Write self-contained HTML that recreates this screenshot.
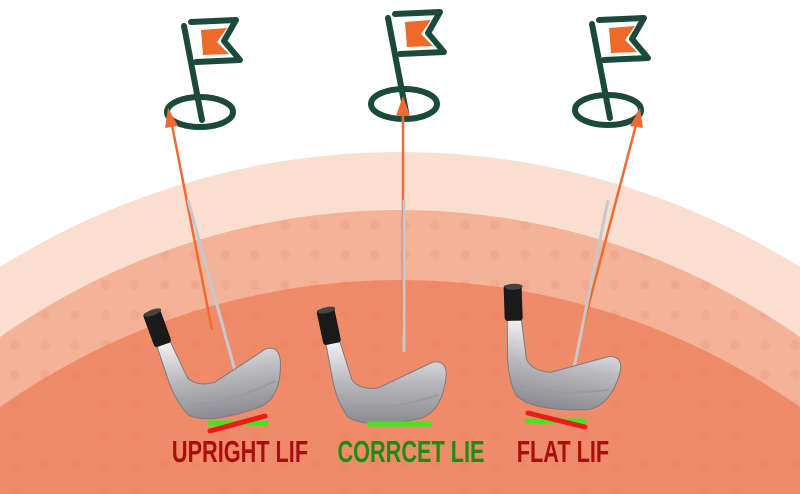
<!DOCTYPE html>
<html><head><meta charset="utf-8"><style>
html,body{margin:0;padding:0;background:#fff;width:800px;height:494px;overflow:hidden;}
svg{display:block;}
text{font-family:"Liberation Sans",sans-serif;font-weight:bold;}
</style></head><body>
<svg width="800" height="494" viewBox="0 0 800 494" xmlns="http://www.w3.org/2000/svg">
<defs>
<linearGradient id="steel" x1="0" y1="0" x2="0" y2="1">
<stop offset="0" stop-color="#f2f2f2"/><stop offset="0.5" stop-color="#b8b8bc"/><stop offset="1" stop-color="#8a8a90"/>
</linearGradient>
<pattern id="dots" width="30" height="30" patternUnits="userSpaceOnUse">
<circle cx="15" cy="15" r="5" fill="#e9805f" opacity="0.5"/>
</pattern>
<g id="club">
<path d="M-62,-48 L-48,-50 L-36,-12 Q-28,-2 -10,-4 L45,-30 Q60,-32 58,-14 Q54,18 34,26 Q-20,38 -40,25 Q-50,12 -55,-10 Z" fill="url(#steel)" stroke="#7a7a80" stroke-width="1"/>
<path d="M-40,14 Q0,20 50,3" stroke="#9a9aa0" stroke-width="2" fill="none"/>
<rect x="-68" y="-84" width="18" height="36" rx="3" fill="#1a1a1a" transform="rotate(-12 -59 -65)"/>
<ellipse cx="-58" cy="-82" rx="9" ry="3" fill="#444" transform="rotate(-12 -59 -65)"/>
</g>
<g id="flag">
<ellipse cx="0" cy="0" rx="33" ry="15" fill="none" stroke="#1b4a3c" stroke-width="6"/>
<path d="M-16,-86 L2,8" stroke="#1b4a3c" stroke-width="6" stroke-linecap="round"/>
<path d="M-9,-90 L36,-92 L24,-71 L40,-52 L-4,-50" fill="none" stroke="#1b4a3c" stroke-width="6" stroke-linejoin="round" stroke-linecap="round"/>
<path d="M1,-82 L27,-84 L17,-70 L29,-58 L3,-57 Z" fill="#ee6a2a"/>
<circle cx="-16" cy="-90" r="0" fill="#1b4a3c"/>
</g>
</defs>
<rect width="800" height="494" fill="#fff"/>
<circle cx="400" cy="905" r="753" fill="#fadfd0"/>
<circle cx="400" cy="903" r="693" fill="#f4b297"/>
<circle cx="400" cy="903" r="693" fill="url(#dots)" opacity="0.3"/>
<circle cx="400" cy="973" r="693" fill="#ef8b69"/>
<circle cx="400" cy="973" r="693" fill="url(#dots)" opacity="0.5"/>
<!-- flags -->
<use href="#flag" transform="translate(200,112)"/>
<use href="#flag" transform="translate(404,104)"/>
<use href="#flag" transform="translate(608,110)"/>
<!-- arrows -->
<g stroke="#f06a35" stroke-width="2.5" fill="#f06a35">
<line x1="212" y1="330" x2="172" y2="125"/>
<polygon points="168,108 165,128 178,126" stroke="none"/>
<line x1="403" y1="335" x2="403" y2="112"/>
<polygon points="403,96 396,116 410,116" stroke="none"/>
<line x1="582" y1="330" x2="636" y2="125"/>
<polygon points="640,108 630,126 643,128" stroke="none"/>
</g>
<!-- shafts -->
<line x1="188" y1="200" x2="237" y2="378" stroke="#c8c8cc" stroke-width="3"/>
<line x1="404" y1="200" x2="404" y2="352" stroke="#c8c8cc" stroke-width="3"/>
<line x1="608" y1="200" x2="572" y2="378" stroke="#c8c8cc" stroke-width="3"/>
<!-- clubs -->
<use href="#club" transform="translate(225,385) rotate(-8)"/>
<use href="#club" transform="translate(388,392)"/>
<use href="#club" transform="translate(560,378) rotate(10)"/>
<!-- lie lines -->
<line x1="208" y1="423" x2="268" y2="423" stroke="#3ee81c" stroke-width="5"/>
<line x1="210" y1="431" x2="265" y2="416" stroke="#ee1b1b" stroke-width="5" stroke-linecap="round"/>
<line x1="367" y1="424" x2="432" y2="424" stroke="#3ee81c" stroke-width="5"/>
<line x1="525" y1="421" x2="586" y2="421" stroke="#3ee81c" stroke-width="5"/>
<line x1="528" y1="413" x2="585" y2="427" stroke="#ee1b1b" stroke-width="5" stroke-linecap="round"/>
<!-- labels -->
<text x="240" y="462" font-size="31" fill="#a80e0e" text-anchor="middle" transform="translate(240 0) scale(0.7 1) translate(-240 0)">UPRIGHT LIF</text>
<text x="411" y="462" font-size="31" fill="#1f8a14" text-anchor="middle" transform="translate(411 0) scale(0.7 1) translate(-411 0)">CORRCET LIE</text>
<text x="563" y="462" font-size="31" fill="#a80e0e" text-anchor="middle" transform="translate(563 0) scale(0.7 1) translate(-563 0)">FLAT LIF</text>
</svg>
</body></html>
